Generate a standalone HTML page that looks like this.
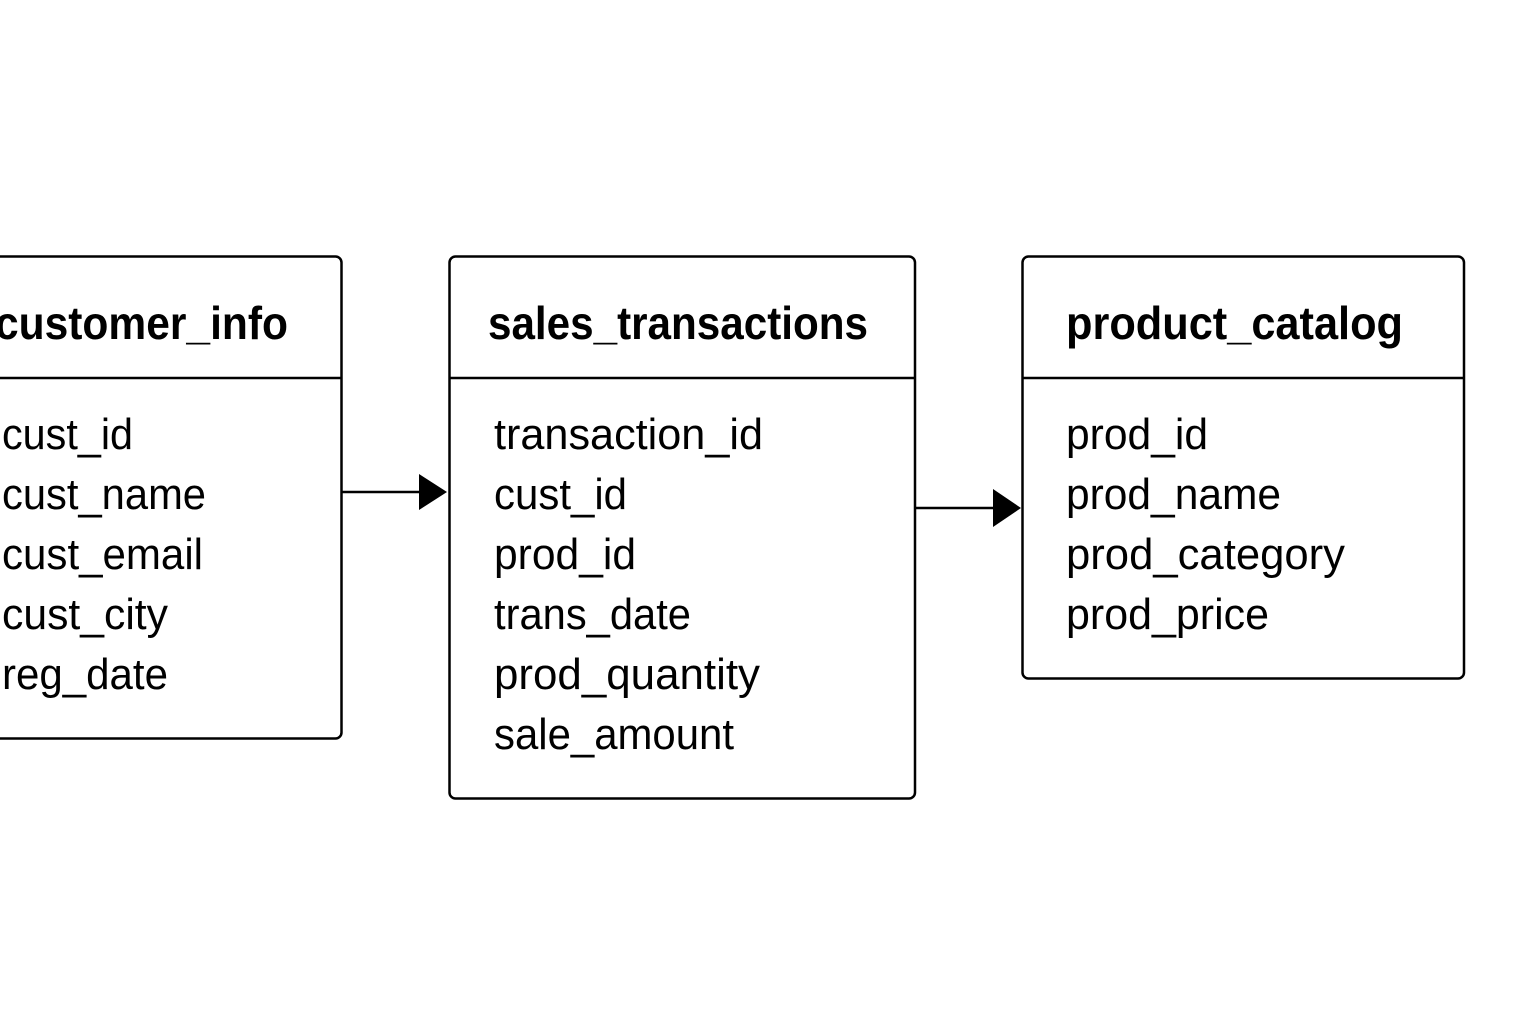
<!DOCTYPE html>
<html><head><meta charset="utf-8"><style>html,body{margin:0;padding:0;background:#fff}svg{display:block}</style></head>
<body>
<svg width="1536" height="1024" viewBox="0 0 1536 1024" xmlns="http://www.w3.org/2000/svg" font-family="Liberation Sans, sans-serif" fill="#000">
<rect width="1536" height="1024" fill="#fff"/>
<g fill="none" stroke="#000" stroke-width="2.5">
<rect x="-20" y="256.5" width="361.5" height="482" rx="6"/>
<line x1="-20" y1="378" x2="341.5" y2="378"/>
<rect x="449.5" y="256.5" width="465.5" height="542" rx="6"/>
<line x1="449.5" y1="378" x2="915" y2="378"/>
<rect x="1022.5" y="256.5" width="441.5" height="422" rx="6"/>
<line x1="1022.5" y1="378" x2="1464" y2="378"/>
<line x1="342" y1="492" x2="422" y2="492"/>
<line x1="916" y1="508" x2="996" y2="508"/>
</g>
<polygon points="419,474 447,492 419,510"/>
<polygon points="993,489 1021,508 993,527"/>
<g font-weight="bold" font-size="46">
<text x="-5" y="339" textLength="293" lengthAdjust="spacingAndGlyphs">customer_info</text>
<text x="488" y="339" textLength="380" lengthAdjust="spacingAndGlyphs">sales_transactions</text>
<text x="1066" y="339" textLength="337" lengthAdjust="spacingAndGlyphs">product_catalog</text>
</g>
<g font-size="44">
<text x="2" y="449" textLength="131" lengthAdjust="spacingAndGlyphs">cust_id</text>
<text x="2" y="509" textLength="204" lengthAdjust="spacingAndGlyphs">cust_name</text>
<text x="2" y="569" textLength="201" lengthAdjust="spacingAndGlyphs">cust_email</text>
<text x="2" y="629" textLength="166" lengthAdjust="spacingAndGlyphs">cust_city</text>
<text x="2" y="689" textLength="166" lengthAdjust="spacingAndGlyphs">reg_date</text>
<text x="494" y="449" textLength="269" lengthAdjust="spacingAndGlyphs">transaction_id</text>
<text x="494" y="509" textLength="133" lengthAdjust="spacingAndGlyphs">cust_id</text>
<text x="494" y="569" textLength="142" lengthAdjust="spacingAndGlyphs">prod_id</text>
<text x="494" y="629" textLength="197" lengthAdjust="spacingAndGlyphs">trans_date</text>
<text x="494" y="689" textLength="266" lengthAdjust="spacingAndGlyphs">prod_quantity</text>
<text x="494" y="749" textLength="240" lengthAdjust="spacingAndGlyphs">sale_amount</text>
<text x="1066" y="449" textLength="142" lengthAdjust="spacingAndGlyphs">prod_id</text>
<text x="1066" y="509" textLength="215" lengthAdjust="spacingAndGlyphs">prod_name</text>
<text x="1066" y="569" textLength="279" lengthAdjust="spacingAndGlyphs">prod_category</text>
<text x="1066" y="629" textLength="203" lengthAdjust="spacingAndGlyphs">prod_price</text>
</g>
</svg>
</body></html>
